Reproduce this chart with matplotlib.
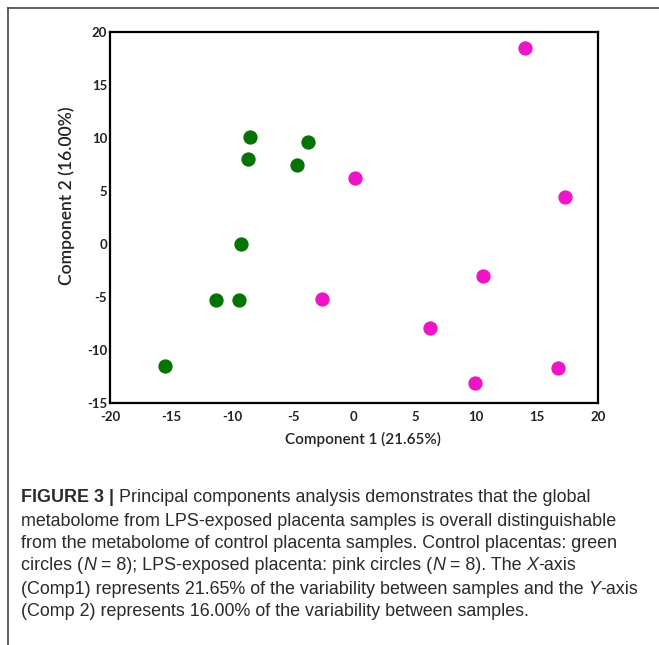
import matplotlib
matplotlib.use('Agg')
import matplotlib.pyplot as plt
from matplotlib.lines import Line2D

# PCA scores
control_x = [-8.5, -8.7, -3.8, -4.7, -9.3, -11.3, -9.4, -15.5]
control_y = [10.1, 8.0, 9.6, 7.5, 0.0, -5.3, -5.25, -11.5]
lps_x = [14.0, 0.1, 17.3, 10.6, 6.2, 9.9, 16.7, -2.6]
lps_y = [18.5, 6.2, 4.4, -3.0, -7.9, -13.1, -11.7, -5.2]

x_ticks = [-20, -15, -10, -5, 0, 5, 10, 15, 20]
y_ticks = [-15, -10, -5, 0, 5, 10, 15, 20]

green = '#067306'
pink = '#ee14c8'
label_font = 'Lato'
caption_font = 'Liberation Sans'

fig = plt.figure(figsize=(6.59, 6.45), dpi=100)
ax = fig.add_axes([110 / 659, 1 - 403 / 645, 488 / 659, 371 / 645])

ax.plot(control_x, control_y, 'o', color=green, markersize=10.3, markeredgewidth=0)
ax.plot(lps_x, lps_y, 'o', color=pink, markersize=10.3, markeredgewidth=0)

ax.set_xlim(-20, 20)
ax.set_ylim(-15, 20)
ax.set_xticks(x_ticks)
ax.set_yticks(y_ticks)
ax.set_xticklabels([str(t) for t in x_ticks], fontfamily=label_font, fontweight='bold', fontsize=9.5)
ax.set_yticklabels([str(t) for t in y_ticks], fontfamily=label_font, fontweight='bold', fontsize=9.5)
ax.tick_params(axis='both', length=0, colors='#222222')
ax.tick_params(axis='x', pad=6)
ax.tick_params(axis='y', pad=2)
for sp in ax.spines.values():
    sp.set_linewidth(1.6)
    sp.set_color('black')

fig.text(363 / 659, 1 - 439 / 645, 'Component 1 (21.65%)', ha='center', va='center',
         fontfamily=label_font, fontweight='semibold', fontsize=11, color='#222222')
fig.text(67 / 659, 1 - 196 / 645, 'Component 2 (16.00%)', ha='center', va='center', rotation=90,
         fontfamily=label_font, fontweight='semibold', fontsize=12.6, color='#222222')

# outer frame (top and left only)
fig.add_artist(Line2D([8 / 659, 8 / 659], [0, 1 - 8 / 645], color='#444444', linewidth=1.2,
                      transform=fig.transFigure))
fig.add_artist(Line2D([8 / 659, 1], [1 - 8 / 645, 1 - 8 / 645], color='#444444', linewidth=1.2,
                      transform=fig.transFigure))

# caption, drawn piece by piece so bold / italic runs sit inline
caption_lines = [
    [('FIGURE 3 | ', 'bold'), ('Principal components analysis demonstrates that the global', 'normal')],
    [('metabolome from LPS-exposed placenta samples is overall distinguishable', 'normal')],
    [('from the metabolome of control placenta samples. Control placentas: green', 'normal')],
    [('circles (', 'normal'), ('N', 'italic'), (' = 8); LPS-exposed placenta: pink circles (', 'normal'),
     ('N', 'italic'), (' = 8). The ', 'normal'), ('X', 'italic'), ('-axis', 'normal')],
    [('(Comp1) represents 21.65% of the variability between samples and the ', 'normal'), ('Y', 'italic'),
     ('-axis', 'normal')],
    [('(Comp 2) represents 16.00% of the variability between samples.', 'normal')],
]
line_y = [498, 521, 544, 566, 589, 611]

renderer = fig.canvas.get_renderer()


def draw_line(segs, yp, size, visible=True):
    xp = 21
    made = []
    for txt, style in segs:
        kw = dict(fontfamily=caption_font, fontsize=size, color='#2a2a2a', va='center', ha='left')
        kw['fontweight'] = 'bold' if style == 'bold' else 'normal'
        if style == 'italic':
            kw['fontstyle'] = 'italic'
        t = fig.text(xp / 659, 1 - yp / 645, txt, **kw)
        t.set_visible(visible)
        made.append(t)
        xp += t.get_window_extent(renderer=renderer).width
    return xp, made


# pick the size that makes the first line run to x=590 like the reference
end, tmp = draw_line(caption_lines[0], line_y[0], 10)
for t in tmp:
    t.remove()
size = 10 * (590 - 21) / (end - 21)

for segs, yp in zip(caption_lines, line_y):
    draw_line(segs, yp, size)

fig.savefig('out.png', dpi=100)
